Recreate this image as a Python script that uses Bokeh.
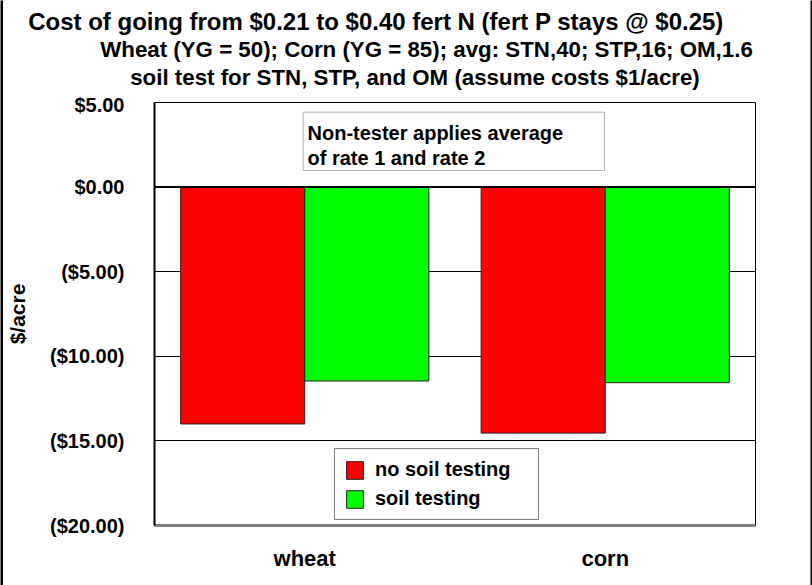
from bokeh.plotting import figure
from bokeh.layouts import column, row
from bokeh.models import (ColumnDataSource, FactorRange, Range1d, FixedTicker,
                          Label, BoxAnnotation, Span, Legend)
from bokeh.transform import dodge
from bokeh.embed import file_html
from bokeh.resources import INLINE

# ---- data ----
crops = ["wheat", "corn"]
no_soil_testing = [-14.0, -14.54]
soil_testing = [-11.46, -11.56]
series_names = ["no soil testing", "soil testing"]
series_colors = ["#FF0000", "#00FF00"]
y_ticks = [5, 0, -5, -10, -15, -20]
y_tick_labels = ["$5.00", "$0.00", "($5.00)", "($10.00)", "($15.00)", "($20.00)"]
title_lines = [
    "Cost of going from $0.21 to $0.40 fert N (fert P stays @ $0.25)",
    "Wheat (YG = 50); Corn (YG = 85); avg: STN,40; STP,16; OM,1.6",
    "soil test for STN, STP, and OM (assume costs $1/acre)",
]
note_lines = ["Non-tester applies average", "of rate 1 and rate 2"]
y_axis_label = "$/acre"

FONT = "Liberation Sans"
W = 807          # canvas width between the 3px / 2px side borders
H = 585
TOP_H = 93       # height of the title strip
DY = -6          # text baseline correction


def blank(width, height, fill):
    f = figure(width=width, height=height, x_range=Range1d(0, 1), y_range=Range1d(0, 1),
               output_backend="svg", toolbar_location=None, title=None,
               x_axis_location=None, y_axis_location=None,
               min_border_left=0, min_border_right=0, min_border_top=0,
               min_border_bottom=0, background_fill_color=fill, border_fill_color=fill)
    f.outline_line_color = None
    f.grid.visible = False
    f.frame_align = False
    return f


# ---- title strip ----
top = blank(W, TOP_H, "white")
for txt, xx, yy, fs in zip(title_lines, [372.5, 423.0, 411.5], [27.3, 55.0, 82.7],
                           ["24px", "22.3px", "22.3px"]):
    top.add_layout(Label(x=xx, y=yy + DY, x_units="canvas", y_units="canvas", text=txt,
                         text_align="center", text_baseline="alphabetic",
                         text_font=FONT, text_font_style="bold",
                         text_font_size=fs, text_color="black"))

# ---- chart ----
p = figure(width=W, height=H - TOP_H,
           x_range=FactorRange(*crops, range_padding=0, factor_padding=0),
           y_range=Range1d(-20, 5),
           output_backend="svg", toolbar_location=None, title=None,
           min_border_left=151, min_border_right=55,
           min_border_top=9, min_border_bottom=60,
           background_fill_color="white", border_fill_color="white")
p.frame_align = False

src = ColumnDataSource(dict(crop=crops, no_test=no_soil_testing, test=soil_testing))

bw = 0.413
r1 = p.vbar(x=dodge("crop", -bw / 2, range=p.x_range), top=0, bottom="no_test",
            width=bw, source=src, fill_color=series_colors[0],
            line_color="#222222", line_width=1)
r2 = p.vbar(x=dodge("crop", bw / 2, range=p.x_range), top=0, bottom="test",
            width=bw, source=src, fill_color=series_colors[1],
            line_color="#222222", line_width=1)

# axes
p.yaxis.ticker = FixedTicker(ticks=y_ticks)
p.yaxis.major_label_overrides = dict(zip(y_ticks, y_tick_labels))
p.yaxis.major_label_text_font = FONT
p.yaxis.major_label_text_font_style = "bold"
p.yaxis.major_label_text_font_size = "20px"
p.yaxis.major_label_text_color = "black"
p.yaxis.major_label_standoff = 30
p.yaxis.major_tick_out = 0
p.yaxis.major_tick_in = 0
p.yaxis.minor_tick_out = 0
p.yaxis.minor_tick_in = 0
p.yaxis.major_tick_line_color = None
p.yaxis.minor_tick_line_color = None
p.yaxis.axis_line_color = "black"
p.yaxis.axis_line_width = 2
p.yaxis.axis_label = y_axis_label
p.yaxis.axis_label_text_font = FONT
p.yaxis.axis_label_text_font_style = "bold"
p.yaxis.axis_label_text_font_size = "21px"
p.yaxis.axis_label_text_color = "black"
p.yaxis.axis_label_standoff = 18

p.xaxis.major_label_text_font = FONT
p.xaxis.major_label_text_font_style = "bold"
p.xaxis.major_label_text_font_size = "22px"
p.xaxis.major_label_text_color = "black"
p.xaxis.major_label_standoff = 20
p.xaxis.major_tick_out = 0
p.xaxis.major_tick_in = 0
p.xaxis.major_tick_line_color = None
p.xaxis.minor_tick_line_color = None
p.xaxis.axis_line_color = "#808080"
p.xaxis.axis_line_width = 3

# grid
p.xgrid.grid_line_color = None
p.ygrid.ticker = FixedTicker(ticks=y_ticks)
p.ygrid.grid_line_color = "black"
p.ygrid.grid_line_width = 1
p.add_layout(Span(location=0, dimension="width", line_color="black", line_width=2))

p.outline_line_color = "black"
p.outline_line_width = 1

# legend
legend = Legend(items=[(series_names[0], [r1]), (series_names[1], [r2])],
                location=(180, 5), orientation="vertical",
                border_line_color="black", border_line_width=1,
                background_fill_color="white", background_fill_alpha=1,
                glyph_width=21, glyph_height=22, label_height=22,
                label_standoff=10, spacing=6, padding=9, margin=0,
                label_width=154,
                label_text_font=FONT, label_text_font_style="bold",
                label_text_font_size="20px", label_text_color="black")
p.add_layout(legend)

# note box (canvas coords of the chart canvas; chart canvas starts at page y = TOP_H)
p.add_layout(BoxAnnotation(left=299.7, right=601, top=111.7 - TOP_H, bottom=170 - TOP_H,
                           left_units="canvas", right_units="canvas",
                           top_units="canvas", bottom_units="canvas",
                           fill_color="white", fill_alpha=1,
                           line_color="black", line_width=1))
for txt, yy in zip(note_lines, [138.3, 163.3]):
    p.add_layout(Label(x=304, y=yy - TOP_H + DY, x_units="canvas", y_units="canvas",
                       text=txt, text_align="left", text_baseline="alphabetic",
                       text_font=FONT, text_font_style="bold",
                       text_font_size="20px", text_color="black"))

left_bar = blank(3, H, "black")
right_bar = blank(2, H, "black")

layout = row(left_bar, column(top, p, spacing=0), right_bar, spacing=0,
             styles={"position": "absolute", "left": "0px", "top": "0px"})

open("out.html", "w").write(file_html(layout, INLINE))
